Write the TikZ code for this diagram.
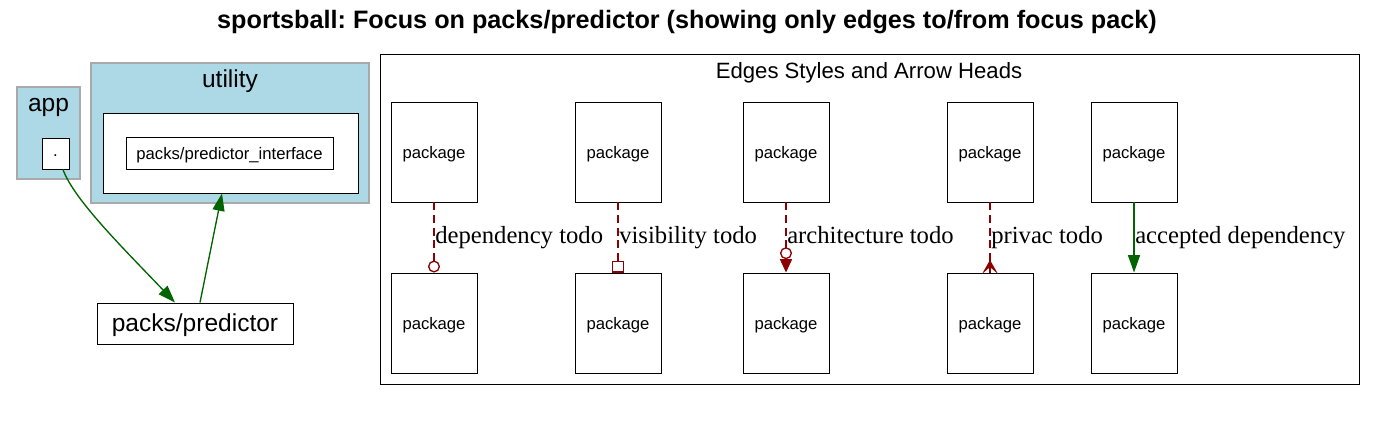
\documentclass[tikz,border=0pt]{standalone}
\usepackage{fontspec}
\setmainfont{Liberation Serif}
\newfontfamily\arial{Liberation Sans}
\usetikzlibrary{arrows.meta}
\definecolor{lblue}{HTML}{ADD8E6}
\definecolor{cgray}{HTML}{A9A9A9}
\definecolor{dred}{HTML}{8B0000}
\definecolor{dgreen}{HTML}{006400}
\newcommand\lowered[1]{\raisebox{-1.5pt}[\height][\depth]{#1}}
\tikzset{
  box/.style={draw=black, fill=white, line width=0.7pt, inner sep=0pt, font=\arial},
  pkg/.style={box, minimum width=64.5pt, minimum height=75pt, font=\arial\fontsize{12.5}{14}\selectfont},
  cluster/.style={draw=cgray, fill=lblue, line width=0.8pt},
  todo/.style={draw=dred, line width=1.1pt, dash pattern=on 6pt off 3.5pt},
  ok/.style={draw=dgreen, line width=1pt},
  elabel/.style={anchor=base west, inner sep=0pt, font=\fontsize{18.5}{20}\selectfont},
  greentip/.style={-{Triangle[length=13pt,width=9pt,fill=dgreen]}},
}
\begin{document}
\frenchspacing
\begin{tikzpicture}[x=0.75pt,y=-0.75pt]
\useasboundingbox (0,0) rectangle (1376,431);
% title
\node[font=\arial\bfseries\fontsize{18.9}{22}\selectfont] (title) at (687,22) {sportsball: Focus on packs/predictor (showing only edges to/from focus pack)};
% clusters
\draw[cluster] (17,87) rectangle (80,179);
\node[anchor=base, inner sep=0pt, font=\arial\fontsize{18.4}{20}\selectfont] (applbl) at (48.5,112) {app};
\draw[cluster] (91,63) rectangle (369,203);
\node[anchor=base, inner sep=0pt, font=\arial\fontsize{18.4}{20}\selectfont] (utillbl) at (230,88) {utility};
\node[box, minimum width=191.25pt, minimum height=60pt] (inner) at (230.5,153) {};
\node[box, minimum width=155.25pt, minimum height=24pt, font=\arial\fontsize{12.5}{14}\selectfont] (iface) at (229.5,153) {\lowered{packs/predictor\_interface}};
\node[box, minimum width=20.25pt, minimum height=23.25pt, font=\arial\fontsize{12.5}{14}\selectfont] (dot) at (55.5,153.5) {\lowered{.}};
\node[box, minimum width=147pt, minimum height=30.75pt, font=\arial\fontsize{18.4}{20}\selectfont] (pred) at (195,323.5) {\lowered{packs/predictor}};
% edges
\draw[ok, greentip] ([xshift=5.6pt]dot.south) .. controls (74,200) and (125,250) .. ([xshift=-15pt]pred.north);
\draw[ok, greentip] ([xshift=3.75pt]pred.north) -- ([xshift=-6.4pt]inner.south);
% legend
\draw[draw=black, line width=0.7pt] (380,54) rectangle (1359,384);
\node[anchor=base, inner sep=0pt, font=\arial\fontsize{16.6}{18}\selectfont] (leglbl) at (869,79) {Edges Styles and Arrow Heads};
\foreach \i/\x in {1/434,2/618,3/786,4/990,5/1134}{
  \node[pkg] (t\i) at (\x,152) {\lowered{package}};
  \node[pkg] (b\i) at (\x,323) {\lowered{package}};
}
\draw[todo, -{Circle[open,length=9pt,width=9pt,line width=1pt,fill=white]}] (t1) -- (b1);
\node[elabel] (l1) at (435,243) {dependency todo};
\draw[todo, -{Square[open,length=8.8pt,width=8.8pt,line width=1pt,fill=white]}] (t2) -- (b2);
\node[elabel] (l2) at (619,243) {visibility todo};
\draw[todo, -{Circle[open,length=9pt,width=9pt,line width=1pt,fill=white] Triangle[length=10pt,width=9pt,fill=dred]}] (t3) -- (b3);
\node[elabel] (l3) at (787,243) {architecture todo};
\draw[todo] (t4) -- (b4);
\coordinate (crow) at (990,260);
\fill[dred] (crow) -- (982,274) -- (990,267) -- (998,274) -- cycle;
\draw[dred, line width=1.2pt] (crow) -- (b4.north);
\node[elabel] (l4) at (991,243) {privac todo};
\draw[ok, greentip] (t5) -- (b5);
\node[elabel] (l5) at (1135,243) {accepted dependency};
\end{tikzpicture}
\end{document}
